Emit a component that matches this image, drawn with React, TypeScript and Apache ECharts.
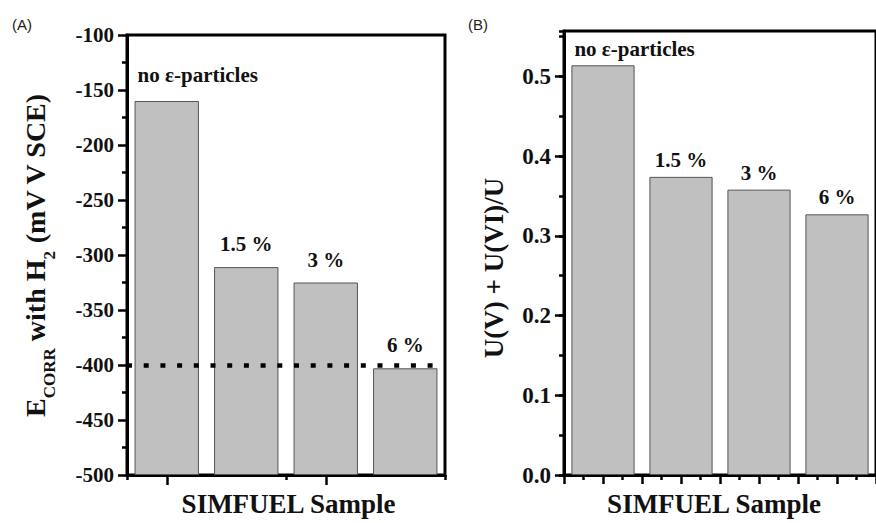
import React, { useEffect, useRef } from "react";
import * as echarts from "echarts";

// SIMFUEL samples with increasing ε-particle content
const samples = ["no ε-particles", "1.5 %", "3 %", "6 %"];
// (A) corrosion potential with H2, mV vs SCE
const ecorrH2 = [-160, -311, -325, -403];
// (B) oxidised surface fraction from XPS
const uOxFraction = [0.514, 0.374, 0.358, 0.327];
// reference potential drawn as a dotted line in (A)
const referencePotential = [-400];
const ecorrTicks = [-500, -450, -400, -350, -300, -250, -200, -150, -100];
const fractionTicks = [0, 0.1, 0.2, 0.3, 0.4, 0.5];

const SERIF = "Liberation Serif";
const SANS = "Liberation Sans";
const INK = "#111";

const barStyle = { color: "#c0c0c0", borderColor: "#555", borderWidth: 1 };
const axisLine = { show: true, onZero: false, lineStyle: { color: "#000", width: 3 } };

function barData(values: number[], firstOffset: number) {
  return values.map((v, i) =>
    i === 0
      ? { value: v, label: { position: [3, -firstOffset], align: "left", verticalAlign: "bottom" } }
      : { value: v }
  );
}

export default function App() {
  const ref = useRef<HTMLDivElement>(null);

  useEffect(() => {
    if (!ref.current) return;
    const chart = echarts.init(ref.current, undefined, { renderer: "svg" });

    const labelFont = { fontFamily: SERIF, fontWeight: "bold", color: INK };
    const titleStyle = {
      fontFamily: SERIF, fontWeight: "bold", fontSize: 27, fill: INK,
      textAlign: "center", textVerticalAlign: "middle", align: "center", verticalAlign: "middle",
    };

    chart.setOption({
      animation: false,
      backgroundColor: "#fff",
      grid: [
        { left: 127, top: 35, width: 318, height: 440, show: true, borderColor: "#000", borderWidth: 3, backgroundColor: "transparent" },
        { left: 564, top: 31, width: 321, height: 444, show: true, borderColor: "#000", borderWidth: 3, backgroundColor: "transparent" },
      ],
      xAxis: [
        {
          type: "category", gridIndex: 0, data: samples, position: "bottom",
          axisLine, axisLabel: { show: false },
          axisTick: { show: true, length: 5, lineStyle: { color: "#000", width: 2.5 } },
        },
        {
          type: "category", gridIndex: 0, data: samples, position: "bottom",
          axisLine: { show: false }, axisLabel: { show: false },
          axisTick: { show: true, alignWithLabel: true, length: 10, lineStyle: { color: "#000", width: 2.5 } },
        },
        {
          type: "category", gridIndex: 1, data: samples, position: "bottom",
          axisLine, axisLabel: { show: false }, axisTick: { show: false },
        },
        {
          type: "value", gridIndex: 1, min: 0, max: 4, interval: 0.5, position: "bottom",
          axisLine: { show: false }, axisLabel: { show: false }, splitLine: { show: false },
          axisTick: { show: true, length: 9, lineStyle: { color: "#000", width: 2.5 } },
          minorTick: { show: true, splitNumber: 2, length: 5, lineStyle: { color: "#000", width: 2.5 } },
        },
      ],
      yAxis: [
        {
          type: "value", gridIndex: 0, position: "left",
          min: ecorrTicks[0], max: ecorrTicks[ecorrTicks.length - 1], interval: 50, startValue: ecorrTicks[0],
          axisLine, splitLine: { show: false },
          axisTick: { show: true, length: 9, lineStyle: { color: "#000", width: 2.5 } },
          minorTick: { show: true, splitNumber: 2, length: 5, lineStyle: { color: "#000", width: 2.5 } },
          axisLabel: { ...labelFont, fontSize: 21, margin: 13 },
        },
        {
          type: "value", gridIndex: 1, position: "left",
          min: 0, max: 0.557, interval: 0.1,
          axisLine, splitLine: { show: false },
          axisTick: { show: true, length: 9, customValues: fractionTicks, lineStyle: { color: "#000", width: 2.5 } },
          axisLabel: {
            ...labelFont, fontSize: 23, margin: 13,
            customValues: fractionTicks,
            formatter: (v: number) => v.toFixed(1),
          },
        },
        {
          type: "value", gridIndex: 1, position: "left",
          min: 0, max: 0.557, interval: 0.05,
          axisLine: { show: false }, splitLine: { show: false }, axisLabel: { show: false },
          axisTick: { show: true, length: 5, lineStyle: { color: "#000", width: 2.5 } },
        },
      ],
      series: [
        {
          type: "bar", xAxisIndex: 0, yAxisIndex: 0,
          data: barData(ecorrH2, 15.5),
          barCategoryGap: "19%",
          itemStyle: barStyle,
          label: { show: true, position: "top", distance: 12.5, formatter: "{b}", ...labelFont, fontSize: 21 },
          markLine: {
            silent: true, symbol: ["none", "none"], label: { show: false },
            lineStyle: { color: "#000", width: 4.5, type: [5, 11.7] },
            data: referencePotential.map((v) => ({ yAxis: v })),
          },
        },
        {
          type: "bar", xAxisIndex: 2, yAxisIndex: 1,
          data: barData(uOxFraction, 5.5),
          barCategoryGap: "19%",
          itemStyle: barStyle,
          label: { show: true, position: "top", distance: 6.5, formatter: "{b}", ...labelFont, fontSize: 21 },
        },
      ],
      graphic: [
        { type: "text", x: 12, y: 17, style: { text: "(A)", fontFamily: SANS, fontSize: 15, fill: "#222" } },
        { type: "text", x: 468, y: 17, style: { text: "(B)", fontFamily: SANS, fontSize: 15, fill: "#222" } },
        {
          type: "text", x: 35.5, y: 255, rotation: Math.PI / 2,
          style: {
            text: "{m|E}{s|CORR}{m| with H}{s|2}{m| (mV V SCE)}",
            textAlign: "center", textVerticalAlign: "middle", align: "center", verticalAlign: "middle",
            fontFamily: SERIF, fontWeight: "bold", fill: INK,
            rich: {
              m: { fontFamily: SERIF, fontWeight: "bold", fontSize: 28, lineHeight: 44, fill: INK },
              s: { fontFamily: SERIF, fontWeight: "bold", fontSize: 17, lineHeight: 17, verticalAlign: "bottom", fill: INK },
            },
          },
        },
        { type: "text", x: 494, y: 268, rotation: Math.PI / 2, style: { text: "U(V) + U(VI)/U", ...titleStyle } },
        { type: "text", x: 288.5, y: 504, style: { text: "SIMFUEL Sample", ...titleStyle } },
        { type: "text", x: 714, y: 504, style: { text: "SIMFUEL Sample", ...titleStyle } },
      ],
    });

    return () => chart.dispose();
  }, []);

  return (
    <div
      ref={ref}
      style={{ position: "fixed", left: 0, top: 0, width: 876, height: 523, background: "#fff" }}
    />
  );
}
